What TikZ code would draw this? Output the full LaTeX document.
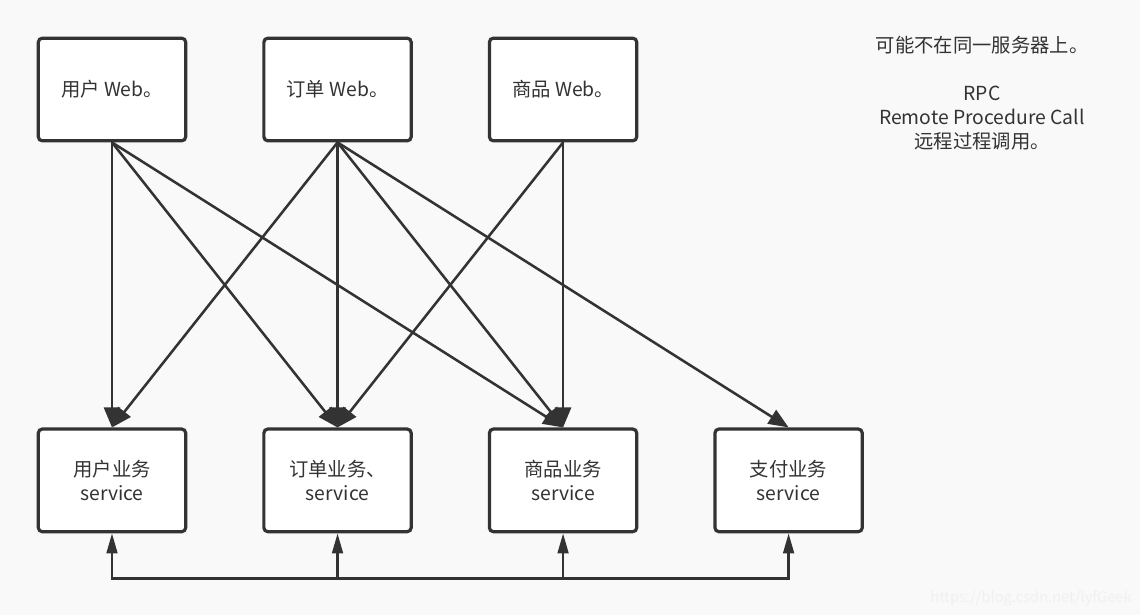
\documentclass[tikz,border=0pt]{standalone}
\usepackage{fontspec}
\setmainfont{Noto Sans CJK SC}
\usetikzlibrary{arrows.meta,positioning}
\definecolor{ink}{HTML}{333333}
\definecolor{paper}{HTML}{F9F9F9}
\tikzstyle{box} = [draw=ink, fill=white, line width=2.4pt, rounded corners=3pt, minimum width=110.5pt, minimum height=77pt, align=center, text=ink, font=\fontsize{14.5}{18}\selectfont]
\tikzstyle{call} = [draw=ink, line width=1.9pt, -{Triangle[length=15pt,width=12pt]}]
\tikzstyle{back} = [draw=ink, line width=1.9pt, {Triangle[length=15pt,width=8pt]}-{Triangle[length=15pt,width=8pt]}]

\begin{document}
\begin{tikzpicture}[x=0.75pt,y=-0.75pt,node distance=56.25pt]
\useasboundingbox[fill=paper] (0,0) rectangle (1140,615);

\node[box] (uweb) at (112,89.5) {用户 Web。};
\node[box, right=of uweb] (oweb) {订单 Web。};
\node[box, right=of oweb] (gweb) {商品 Web。};

\node[box, below=213.75pt of uweb] (usvc) {用户业务\\service};
\node[box, right=of usvc] (osvc) {订单业务、\\service};
\node[box, right=of osvc] (gsvc) {商品业务\\service};
\node[box, right=of gsvc] (psvc) {支付业务\\service};

\node[text=ink, align=center, font=\fontsize{14.5}{18}\selectfont] (rpc) at (982,93)
  {可能不在同一服务器上。\\[18pt]RPC\\Remote Procedure Call\\远程过程调用。};
\node[text=black!6, font=\fontsize{11}{13}\selectfont] (mark) at (1031,598) {https://blog.csdn.net/lyfGeek};

\path
(uweb.south) edge [call] (usvc.north)
(uweb.south) edge [call] (osvc.north)
(uweb.south) edge [call] (gsvc.north)
(oweb.south) edge [call] (usvc.north)
(oweb.south) edge [call] (osvc.north)
(oweb.south) edge [call] (gsvc.north)
(oweb.south) edge [call] (psvc.north)
(gweb.south) edge [call] (osvc.north)
(gweb.south) edge [call] (gsvc.north);

% bus under the services
\coordinate[below=33.75pt of usvc.south] (b1);
\coordinate[below=33.75pt of osvc.south] (b2);
\coordinate[below=33.75pt of gsvc.south] (b3);
\coordinate[below=33.75pt of psvc.south] (b4);
\draw[back] (usvc.south) -- (b1) -- (b4) -- (psvc.south);
\draw[call, -{Triangle[length=15pt,width=8pt]}] (b2) -- (osvc.south);
\draw[call, -{Triangle[length=15pt,width=8pt]}] (b3) -- (gsvc.south);
\end{tikzpicture}
\end{document}
